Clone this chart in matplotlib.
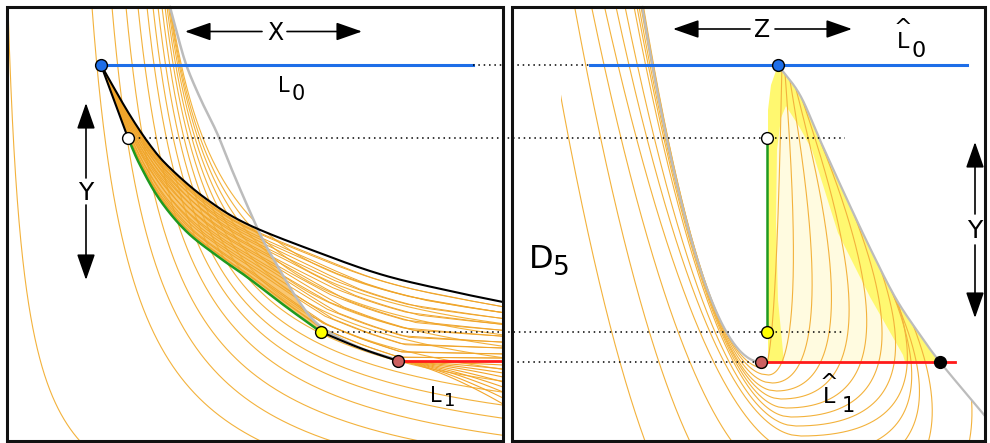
import numpy as np
import matplotlib.pyplot as plt
from matplotlib.patches import Rectangle, Polygon

# ---------------- left panel (pixel coordinates, v grows downward) ----------------
blue_l = (101, 65)
white_l = (128, 138)
yellow_l = (321, 332)
red_l = (398, 361)

upper_black = [(101, 65), (128, 112), (150, 145), (170, 168), (205, 198), (247, 224),
               (317, 252), (383, 275), (450, 291), (503, 302)]
green_curve = [(128, 138), (140, 165), (160, 200), (187, 232), (220, 258), (247, 277),
               (285, 306), (321, 332)]
lower_black = [(321, 332), (360, 348), (398, 361)]
gray_left = [(170, 7), (178, 37), (187, 67), (201, 100), (217, 133), (232, 170), (247, 205),
             (262, 238), (277, 265), (298, 300), (320, 326), (358, 347), (398, 360)]

# level curves of the left panel: top crossing, horizontal asymptote, bend
left_top = [8, 92, 112, 126, 138, 147, 153, 158, 162, 165, 167, 168.5, 169.5, 170, 170.5]
left_asym = [540, 544, 530, 512, 494, 476, 462, 448, 436, 424, 412, 400, 388, 376, 364]
left_bend = [16.4, 40, 45, 48, 50, 50, 50, 50, 50, 51, 52, 53, 54, 55, 56]
band_mix = [0.08, 0.18, 0.28, 0.38, 0.48, 0.58, 0.68, 0.78, 0.88, 0.95]
fan_drop = [4, 8, 12, 16, 21, 26, 31, 37, 43]

# ---------------- right panel ----------------
blue_r = (778, 65)
white_r = (767, 138)
yellow_r = (767, 332)
red_r = (761, 362)
black_r = (940, 362)
gray_right = [(778, 65), (800, 95), (820, 140), (845, 195), (870, 248), (895, 297),
              (918, 332), (940, 362), (985, 416)]

r_bottom_v = [368, 375, 383, 391, 399, 408, 417, 426, 436, 455, 480, 520, 560]
r_bottom_z = [764, 768, 772, 776, 781, 786, 791, 796, 801, 805, 788, 764, 731.5]
r_width = [6.34, 6.52, 6.70, 6.89, 7.17, 7.44, 7.75, 8.35, 8.93, 9.47, 9.03, 8.36, 7.93]
r_end_v = [70, 74, 80, 88, 98, 110, 125, 145, 170, 215, 265, 325, 400]
r_ctrl = [12, 40, 70, 100, 125, 150, 170, 185, 195, 185, 205, 225, 250]

ORANGE = '#f3b23c'
GRAY = '#bcbcbc'
BLUE = '#1e6ee8'
GREEN = '#1f9a1f'
RED = '#ff1a1a'


def smooth(pts, n=24):
    p = np.asarray(pts, float)
    p = np.vstack([2 * p[0] - p[1], p, 2 * p[-1] - p[-2]])
    out = []
    t = np.linspace(0, 1, n, endpoint=False)[:, None]
    for i in range(1, len(p) - 2):
        p0, p1, p2, p3 = p[i - 1], p[i], p[i + 1], p[i + 2]
        out.append(0.5 * (2 * p1 + (-p0 + p2) * t + (2 * p0 - 5 * p1 + 4 * p2 - p3) * t ** 2
                          + (-p0 + 3 * p1 - 3 * p2 + p3) * t ** 3))
    out.append(p[-2][None])
    return np.vstack(out)


def resample(xy, m, warp=1.0):
    d = np.r_[0, np.cumsum(np.hypot(*np.diff(xy, axis=0).T))]
    s = d[-1] * np.linspace(0, 1, m) ** warp
    return np.column_stack([np.interp(s, d, xy[:, 0]), np.interp(s, d, xy[:, 1])])


fig = plt.figure(figsize=(9.9, 4.43), dpi=100)
ax = fig.add_axes([0, 0, 1, 1])
ax.set_xlim(0, 990)
ax.set_ylim(443, 0)
ax.axis('off')

ub = smooth(upper_black)
gl = smooth(gray_left)
gr = smooth(gray_right)
grn = smooth(green_curve)
lb = smooth(lower_black)

# ---- left panel clip: hide area above the black curve and right of the gray one
vb_at = np.interp(gl[:, 0], ub[:, 0], ub[:, 1])
cross = np.argmax(gl[:, 1] >= vb_at)
clip_pts = [(7, 7)] + [tuple(p) for p in gl[:cross]] + \
    [tuple(p) for p in ub[ub[:, 0] > gl[cross, 0]]] + [(503, 441), (7, 441)]
clip_l = Polygon(clip_pts, closed=True, transform=ax.transData)

# band fill (orange) between upper boundary and green boundary
uu = np.linspace(101, 398, 400)
top = np.interp(uu, ub[:, 0], ub[:, 1])
gv = np.interp(uu, gl[:, 0], gl[:, 1])
top = np.where(uu >= 170, np.maximum(top, gv), top)
low_pts = np.vstack([np.array([blue_l]), grn, lb])
bot = np.interp(uu, low_pts[:, 0], low_pts[:, 1])
bot = np.where(uu < 128, 65 + (uu - 101) * 73 / 27, bot)
ax.fill_between(uu, top, bot, where=bot >= top, color='#f7b543', alpha=0.75, lw=0, zorder=1)

# level curves
for a, hh, k in zip(left_top, left_asym, left_bend):
    v = np.linspace(7, min(441, hh - 1), 500)
    u = a + k * (v - 7) / (hh - v)
    m = u < 520
    ln, = ax.plot(u[m], v[m], color=ORANGE, lw=0.8, zorder=2)
    ln.set_clip_path(clip_l)

# band hatch lines
lower_full = np.vstack([np.array([blue_l, white_l]), grn, lb, np.array([(503, 361)])])
U = resample(ub, 300)
L = resample(lower_full, 300)
Lw = resample(lower_full, 300, warp=1.35)
for t in band_mix:
    for low in (L, Lw):
        c = (1 - t) * U + t * low
        ax.plot(c[:, 0], c[:, 1], color='#f0a52a', lw=0.7, zorder=2)

# fan below the red line
uf = np.linspace(red_l[0], 503, 100)
for d in fan_drop:
    ax.plot(uf, red_l[1] + d * ((uf - red_l[0]) / 105) ** 1.4, color='#f3a52a', lw=0.8, zorder=2)

# guide curves
ax.plot(gl[:, 0], gl[:, 1], color=GRAY, lw=1.8, zorder=3)
ax.plot(ub[:, 0], ub[:, 1], color='k', lw=1.5, zorder=4)
ax.plot([blue_l[0], white_l[0]], [blue_l[1], white_l[1]], color='k', lw=1.5, zorder=4)
ax.plot(grn[:, 0], grn[:, 1], color=GREEN, lw=1.8, zorder=4)
ax.plot(lb[:, 0], lb[:, 1], color='k', lw=1.5, zorder=4)
ax.plot([red_l[0], 503], [red_l[1], red_l[1]], color=RED, lw=2, zorder=4)
ax.plot([blue_l[0], 473], [65, 65], color=BLUE, lw=2.2, zorder=4)

# ---------------- right panel ----------------
tri = [(778, 65), (771, 85), (768, 110), (768, 362)] + [tuple(p) for p in gr[::-1] if p[1] <= 362]
ax.add_patch(Polygon(tri, closed=True, fc='#fff870', ec='none', zorder=1))
inner = [(786, 106), (800, 128), (812, 150), (838, 233), (870, 297), (903, 355), (905, 362),
         (784, 362), (778, 300), (776, 220), (777, 150), (781, 118)]
ax.add_patch(Polygon(inner, closed=True, fc='#fffbe0', ec='none', zorder=1))

clip_r_pts = [(561, 7), (778, 7)] + [tuple(p) for p in gr] + [(985, 441), (561, 441)]
clip_r = Polygon(clip_r_pts, closed=True, transform=ax.transData)

for vb, zb, A, ve, cd in zip(r_bottom_v, r_bottom_z, r_width, r_end_v, r_ctrl):
    v = np.linspace(7, vb, 400)
    z = zb - A * np.sqrt(vb - v)
    t = np.linspace(0, 1, 300)[:, None]
    p0 = np.array([zb, vb])
    p1 = np.array([zb + cd, vb])
    p2 = np.array([np.interp(ve, gr[:, 1], gr[:, 0]), ve])
    arm = (1 - t) ** 2 * p0 + 2 * t * (1 - t) * p1 + t ** 2 * p2
    zz = np.r_[z, arm[:, 0]]
    vv = np.r_[v, arm[:, 1]]
    ln, = ax.plot(zz, vv, color=ORANGE, lw=0.8, zorder=2)
    ln.set_clip_path(clip_r)

vg = np.linspace(7, red_r[1], 300)
ax.plot(red_r[0] - 6.3 * np.sqrt(red_r[1] - vg), vg, color=GRAY, lw=1.6, zorder=3)
ax.plot(gr[:, 0], gr[:, 1], color=GRAY, lw=1.6, zorder=3)
ax.plot([white_r[0], yellow_r[0]], [white_r[1], yellow_r[1]], color=GREEN, lw=1.8, zorder=4)
ax.plot([red_r[0], 955], [362, 362], color=RED, lw=2, zorder=4)
ax.plot([590, 967], [65, 65], color=BLUE, lw=2.2, zorder=4)

# dotted connectors
dot = dict(color='k', lw=1.1, ls=(0, (1, 2.5)), zorder=5)
ax.plot([473, 503], [65, 65], **dot)
ax.plot([512, 590], [65, 65], **dot)
for (x0, y0), x1 in [(white_l, 845), (yellow_l, 843)]:
    ax.plot([x0, x1], [y0, y0], **dot)
ax.plot([512, red_r[0]], [362, 362], **dot)

# panel frames
ax.add_patch(Rectangle((7, 7), 496, 434, fill=False, lw=2.2, ec='#111111', zorder=8))
ax.add_patch(Rectangle((512, 7), 473, 434, fill=False, lw=2.2, ec='#111111', zorder=8))

# points
for (x, y), fc in [(blue_l, BLUE), (white_l, 'white'), (yellow_l, '#ffff00'), (red_l, '#cc6060'),
                   (blue_r, BLUE), (white_r, 'white'), (yellow_r, '#ffff00'), (red_r, '#cc6060'),
                   (black_r, 'black')]:
    ax.plot(x, y, 'o', ms=8.5, mfc=fc, mec='k', mew=1.0, zorder=9)

# arrows
hd = dict(arrowstyle='-|>,head_length=0.8,head_width=0.28', color='k', lw=1.2,
          shrinkA=0, shrinkB=0, mutation_scale=20)


def double_arrow(p_a, g_a, g_b, p_b):
    ax.annotate('', xy=p_a, xytext=g_a, arrowprops=hd, zorder=7)
    ax.annotate('', xy=p_b, xytext=g_b, arrowprops=hd, zorder=7)


double_arrow((185, 31.5), (262, 31.5), (287, 31.5), (362, 31.5))
double_arrow((673, 29), (750, 29), (775, 29), (852, 29))
double_arrow((86, 103), (86, 178), (86, 205), (86, 280))
double_arrow((975, 142), (975, 214), (975, 245), (975, 318))


# labels
def lab(x, y, s, size, **kw):
    ax.text(x, y, s, fontsize=size, ha='center', va='baseline', zorder=10, **kw)


lab(275, 40, 'X', 17)
lab(762, 37, 'Z', 17)
lab(86, 200, 'Y', 18)
lab(975, 238, 'Y', 18)
lab(284, 92, 'L', 15)
lab(298, 100, '0', 15)
lab(436, 402, 'L', 15)
lab(450, 406, '1', 13)
lab(903, 48, '^\nL', 16, linespacing=0.6)
lab(919, 57, '0', 16)
lab(829, 403, '^\nL', 16, linespacing=0.6)
lab(848, 412, '1', 15)
lab(541, 268, 'D', 23)
lab(561, 275, '5', 19)

fig.savefig('out.png', dpi=100)
